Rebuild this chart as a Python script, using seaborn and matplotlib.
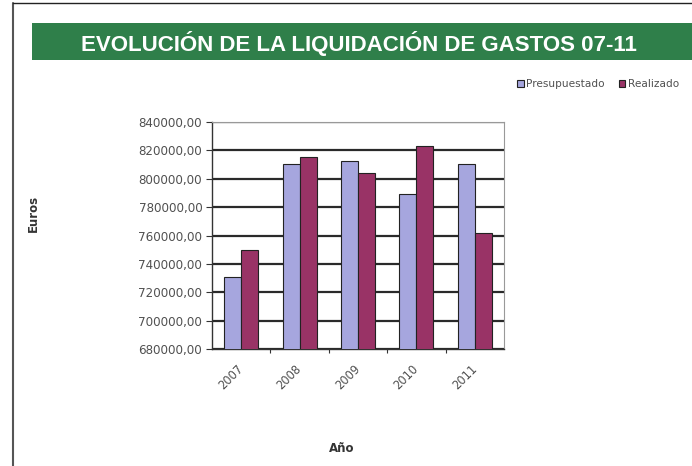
import matplotlib
matplotlib.use("Agg")
import matplotlib.pyplot as plt
from matplotlib.patches import Rectangle, Patch
from matplotlib.ticker import FuncFormatter, MultipleLocator
import seaborn as sns
import pandas as pd

years = ["2007", "2008", "2009", "2010", "2011"]
presupuestado = [730800, 810500, 812400, 789200, 810500]
realizado = [749700, 815200, 804100, 823000, 762000]
series_names = ["Presupuestado", "Realizado"]
colors = ["#A6A6DE", "#993366"]

df = pd.DataFrame({
    "Año": years * 2,
    "Euros": presupuestado + realizado,
    "Serie": [series_names[0]] * len(years) + [series_names[1]] * len(years),
})

sns.set_style("white")
plt.rcParams['font.family'] = ['DejaVu Sans']

fig = plt.figure(figsize=(6.92, 4.66), dpi=100)
W, H = 692, 466

# Page border lines (left and top)
fig.add_artist(plt.Line2D([13 / W, 13 / W], [0, 1 - 3 / H], color="#555555", lw=1.5, transform=fig.transFigure))
fig.add_artist(plt.Line2D([13 / W, 1], [1 - 3 / H, 1 - 3 / H], color="#222222", lw=1.0, transform=fig.transFigure))

# Green title banner
fig.add_artist(Rectangle((32 / W, 1 - 60 / H), (W - 32) / W, 37 / H, transform=fig.transFigure,
                         facecolor="#2F7F4A", edgecolor="none"))
fig.text(359 / W, 1 - 43 / H, "EVOLUCIÓN DE LA LIQUIDACIÓN DE GASTOS 07-11", color="white",
         fontsize=16, fontweight="bold", ha="center", va="center", family=["Liberation Sans"])

ax = fig.add_axes([212 / W, 1 - 349 / H, (504 - 212) / W, (349 - 122) / H])
sns.barplot(data=df, x="Año", y="Euros", hue="Serie", palette=colors, width=0.58, saturation=1,
            edgecolor="#222222", linewidth=0.8, ax=ax, legend=False, zorder=3)

ax.set_ylim(680000, 840000)
ax.yaxis.set_major_locator(MultipleLocator(20000))
ax.yaxis.set_major_formatter(FuncFormatter(lambda v, p: f"{v:.2f}".replace(".", ",")))
ax.set_xlim(-0.5, len(years) - 0.5)
ax.grid(axis="y", color="#2a2a2a", lw=1.6, zorder=1)
ax.set_axisbelow(True)
for s in ["top", "right"]:
    ax.spines[s].set_color("#999999")
    ax.spines[s].set_linewidth(0.8)
for s in ["left", "bottom"]:
    ax.spines[s].set_color("#333333")
    ax.spines[s].set_linewidth(1.0)

ax.tick_params(axis="y", labelsize=8.6, labelcolor="#505050", length=4, width=0.8, color="#333333",
               direction="out", left=True, pad=3)
ax.tick_params(axis="x", labelsize=8.3, labelcolor="#505050", length=0, pad=13)
ax.set_xticks(range(len(years)))
ax.set_xticklabels(years, rotation=45, ha="right", va="center", rotation_mode="anchor")
ax.set_xticks([i + 0.5 for i in range(len(years) - 1)], minor=True)
ax.tick_params(axis="x", which="minor", length=3, width=0.8, color="#333333", direction="out", bottom=True)

ax.set_xlabel("")
ax.set_ylabel("")
fig.text(342 / W, 1 - 449 / H, "Año", fontsize=8.5, fontweight="bold", color="#333333", ha="center", va="center")
fig.text(33 / W, 1 - 213 / H, "Euros", fontsize=8.5, fontweight="bold", color="#333333", ha="center", va="center", rotation=90)

# Legend
handles = [Patch(facecolor=c, edgecolor="#222222", linewidth=0.8) for c in colors]
fig.legend(handles, series_names, loc="center left", bbox_to_anchor=(512 / W, 1 - 84 / H), ncol=2,
           frameon=False, fontsize=7.6, handlelength=0.6, handleheight=0.6, handletextpad=0.2,
           columnspacing=1.4, labelcolor="#505050", borderpad=0)

fig.savefig("out.png", dpi=100, facecolor="white")
